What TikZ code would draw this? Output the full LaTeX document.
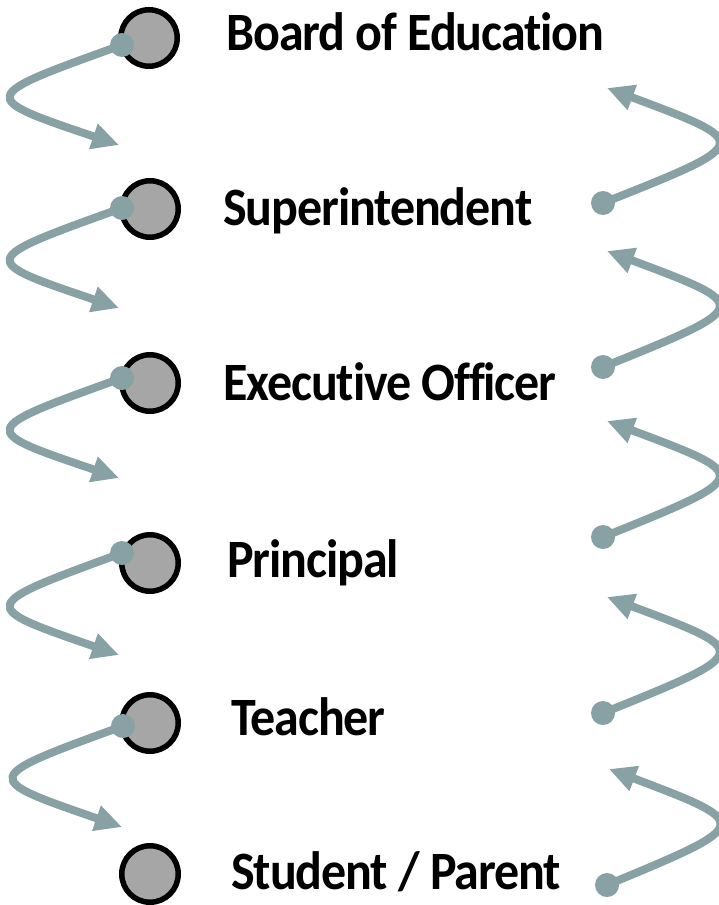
\documentclass[tikz,border=0pt]{standalone}
\usepackage{fontspec}
\setmainfont{Carlito}[Ligatures=NoCommon]
\newfontfamily\labelfont{Carlito}[Ligatures=NoCommon, LetterSpace=-2.2]
\usetikzlibrary{arrows.meta}
\definecolor{flow}{HTML}{88A1A4}
\definecolor{disc}{HTML}{A6A6A6}
% labels are set slightly taller than the font's natural shape
\newcommand{\tallword}[1]{\scalebox{1}[1.08]{#1}}
\begin{document}
\begin{tikzpicture}[x=1pt,y=-1pt,
  level/.style={circle, draw=black, line width=5.5pt, fill=disc,
                minimum size=56.5pt, inner sep=0pt},
  knob/.style={circle, fill=flow, minimum size=24pt, inner sep=0pt},
  title/.style={anchor=base west, inner sep=0pt,
                font=\labelfont\fontsize{50}{55}\selectfont\bfseries},
  flowline/.style={draw=flow, line width=8pt,
                   -{Triangle[length=27pt,width=25pt]}}]
\useasboundingbox (0,0) rectangle (719,905);

% hierarchy levels
\node[level] (c1) at (149,38)  {};
\node[level] (c2) at (150,209) {};
\node[level] (c3) at (150,383) {};
\node[level] (c4) at (150,563) {};
\node[level] (c5) at (150,723) {};
\node[level] (c6) at (150,874) {};

\node[title] (t1) at (226,50)  {\tallword{Board of Education}};
\node[title] (t2) at (223,225) {\tallword{Superintendent}};
\node[title] (t3) at (223,400) {\tallword{Executive Officer}};
\node[title] (t4) at (227,577) {\tallword{Principal}};
\node[title] (t5) at (231,735) {\tallword{Teacher}};
\node[title] (t6) at (231,889) {\tallword{Student / Parent}};

% downward flow on the left
\coordinate (la1) at (119,145);
\coordinate (la2) at (119,308);
\coordinate (la3) at (119,478);
\coordinate (la4) at (119,655);
\coordinate (la5) at (122,827);
\draw[flowline] (122,45)  .. controls (-23,97)  and (-23,97)  .. (la1);
\draw[flowline] (122,208) .. controls (-23,260) and (-23,260) .. (la2);
\draw[flowline] (122,378) .. controls (-23,430) and (-23,430) .. (la3);
\draw[flowline] (122,553) .. controls (-23,606) and (-23,606) .. (la4);
\draw[flowline] (123,726) .. controls (-20,778) and (-20,778) .. (la5);
\node[knob] (ld1) at (122,45)  {};
\node[knob] (ld2) at (122,208) {};
\node[knob] (ld3) at (122,378) {};
\node[knob] (ld4) at (122,553) {};
\node[knob] (ld5) at (123,726) {};

% upward flow on the right
\coordinate (ra1) at (607,88);
\coordinate (ra2) at (607,251);
\coordinate (ra3) at (607,421);
\coordinate (ra4) at (607,597);
\coordinate (ra5) at (609,769);
\node[knob] (rd1) at (603,203) {};
\node[knob] (rd2) at (603,367) {};
\node[knob] (rd3) at (603,537) {};
\node[knob] (rd4) at (603,713) {};
\node[knob] (rd5) at (607,885) {};
\draw[flowline] (rd1.center) .. controls (754,143) and (754,143) .. (ra1);
\draw[flowline] (rd2.center) .. controls (754,306) and (754,306) .. (ra2);
\draw[flowline] (rd3.center) .. controls (754,476) and (754,476) .. (ra3);
\draw[flowline] (rd4.center) .. controls (754,652) and (754,652) .. (ra4);
\draw[flowline] (rd5.center) .. controls (754,824) and (754,824) .. (ra5);
\end{tikzpicture}
\end{document}
